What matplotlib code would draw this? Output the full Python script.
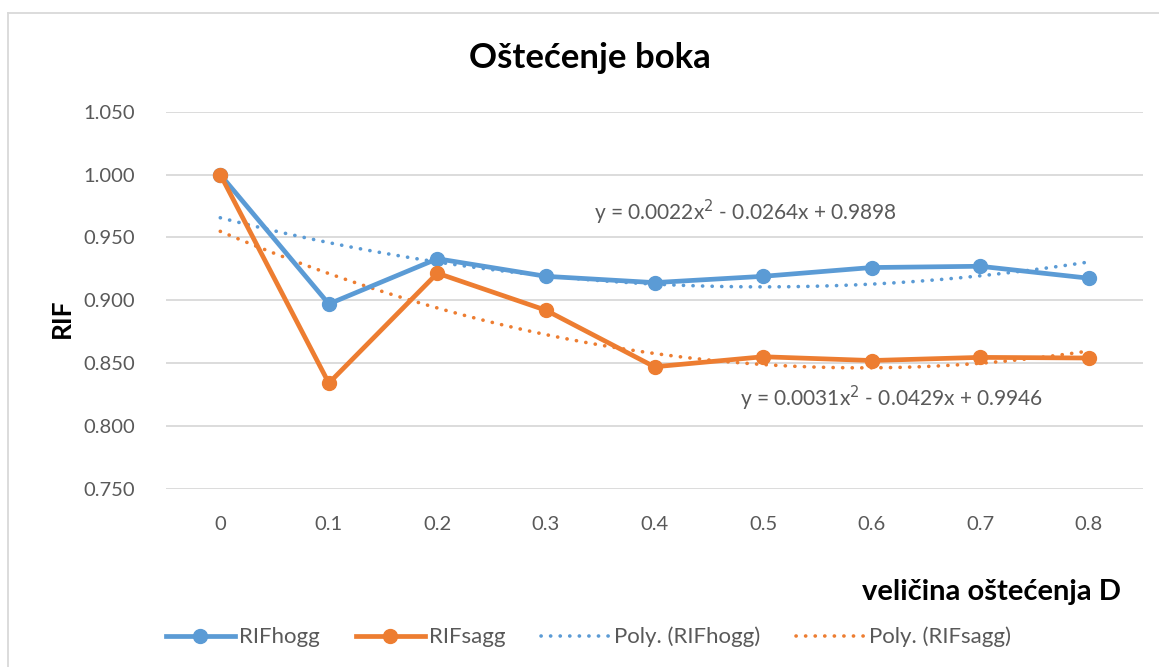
import numpy as np
import matplotlib.pyplot as plt
from matplotlib.lines import Line2D

plt.rcParams['font.family'] = ['Lato', 'DejaVu Sans']

categories = ['0', '0.1', '0.2', '0.3', '0.4', '0.5', '0.6', '0.7', '0.8']
rif_hogg = [1.000, 0.897, 0.933, 0.919, 0.914, 0.919, 0.926, 0.927, 0.9175]
rif_sagg = [1.000, 0.834, 0.9215, 0.892, 0.847, 0.855, 0.852, 0.8545, 0.854]

# trendline coefficients as shown on the chart (x = category index 1..9)
poly_hogg = [0.0022, -0.0264, 0.9898]
poly_sagg = [0.0031, -0.0429, 0.9946]

y_ticks = [0.75, 0.80, 0.85, 0.90, 0.95, 1.00, 1.05]

blue = '#5B9BD5'
orange = '#ED7D31'
grey_txt = '#595959'

W, H = 1159, 667
fig = plt.figure(figsize=(W / 100, H / 100), dpi=100)
ax = fig.add_axes([166 / W, 1 - 488.7 / H, (1143 - 166) / W, (488.7 - 111.7) / H])

idx = np.arange(len(categories))
xs = np.linspace(1, len(categories), 200)

dotted = (0, (0.05, 2.6))
for coef, col in [(poly_hogg, blue), (poly_sagg, orange)]:
    ax.plot(xs - 1, np.polyval(coef, xs), color=col, lw=2.6, ls=dotted,
            dash_capstyle='round', zorder=2)

ax.plot(idx, rif_hogg, color=blue, lw=3.4, marker='o', ms=10, zorder=3,
        solid_capstyle='round')
ax.plot(idx, rif_sagg, color=orange, lw=3.4, marker='o', ms=10, zorder=4,
        solid_capstyle='round')

ax.set_xlim(-0.5, len(categories) - 0.5)
ax.set_ylim(0.75, 1.05)
ax.set_xticks(idx)
ax.set_xticklabels(categories)
ax.set_yticks(y_ticks)
ax.set_yticklabels([f'{v:.3f}' for v in y_ticks])
ax.tick_params(length=0, labelsize=14.5, colors=grey_txt, pad=22)
ax.tick_params(axis='x', pad=20)
ax.grid(axis='y', color='#d9d9d9', lw=1.3)
ax.set_axisbelow(True)
for s in ax.spines.values():
    s.set_visible(False)


def eq_text(c):
    return (f'y = {c[0]:.4f}x$^{{2}}$ - {abs(c[1]):.4f}x + {c[2]:.4f}')


fig.text(594 / W, 1 - 212 / H, eq_text(poly_hogg), fontsize=15, color=grey_txt,
         va='center', ha='left')
fig.text(740 / W, 1 - 398 / H, eq_text(poly_sagg), fontsize=15, color=grey_txt,
         va='center', ha='left')

fig.text(590 / W, 1 - 58 / H, 'Oštećenje boka', fontsize=25, fontweight='bold',
         ha='center', va='center')
fig.text(62 / W, 1 - 318 / H, 'RIF', fontsize=19, fontweight='bold',
         rotation=90, ha='center', va='center')
fig.text(991 / W, 1 - 592 / H, 'veličina oštećenja D', fontsize=21,
         fontweight='bold', ha='center', va='center')

# chart frame (left and top edges visible)
fig.add_artist(Line2D([8 / W, 8 / W], [0, 1 - 12.7 / H], transform=fig.transFigure,
                      color='#d9d9d9', lw=1.3))
fig.add_artist(Line2D([8 / W, 1], [1 - 12.7 / H, 1 - 12.7 / H],
                      transform=fig.transFigure, color='#d9d9d9', lw=1.3))

handles = [
    Line2D([], [], color=blue, lw=3.4, marker='o', ms=10),
    Line2D([], [], color=orange, lw=3.4, marker='o', ms=10),
    Line2D([], [], color=blue, lw=2.6, ls=dotted, dash_capstyle='round'),
    Line2D([], [], color=orange, lw=2.6, ls=dotted, dash_capstyle='round'),
]
labels = ['RIFhogg', 'RIFsagg', 'Poly. (RIFhogg)', 'Poly. (RIFsagg)']
leg = fig.legend(handles, labels, loc='center left',
                 bbox_to_anchor=(166 / W, 1 - 637 / H),
                 ncol=4, frameon=False, fontsize=16, handlelength=3.1,
                 columnspacing=1.6, handletextpad=0.2, borderpad=0,
                 borderaxespad=0)
for t in leg.get_texts():
    t.set_color(grey_txt)

fig.savefig('out.png', dpi=100)
